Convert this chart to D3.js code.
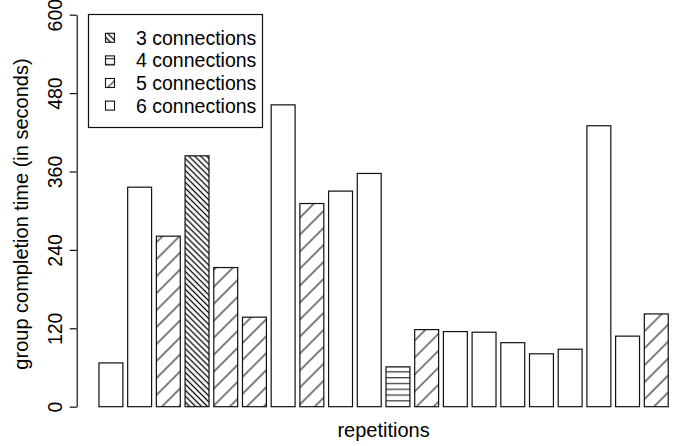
<!DOCTYPE html>
<html>
<head>
<meta charset="utf-8">
<script src="https://cdn.jsdelivr.net/npm/d3@7"></script>
<style>
  html, body { margin: 0; padding: 0; background: #fff; }
  svg { display: block; font-family: "Liberation Sans", Arial, Helvetica, sans-serif; }
</style>
</head>
<body>
<svg id="chart" width="679" height="446"></svg>
<script>
// Group completion time for each repetition, in seconds
const completionTimes = [67, 336, 261, 384, 213, 137, 462, 311, 330, 357, 61, 118, 115, 114, 98, 81, 88, 430, 108, 142];
// Number of connections used in each repetition
const connections = [6, 6, 5, 3, 5, 5, 6, 5, 6, 6, 4, 5, 6, 6, 6, 6, 6, 6, 6, 5];
// Legend entries and y tick values
const legendLabels = ["3 connections", "4 connections", "5 connections", "6 connections"];
const legendKeys = [3, 4, 5, 6];
const yTicks = [0, 120, 240, 360, 480, 600];

const svg = d3.select("#chart");

// Fill pattern for each connection count
const fillFor = { 3: "url(#hatch3)", 4: "url(#hatch4)", 5: "url(#hatch5)", 6: "#fff" };

const defs = svg.append("defs");
function hatch(id, spacing, angle, offset) {
  const p = defs.append("pattern")
    .attr("id", id)
    .attr("patternUnits", "userSpaceOnUse")
    .attr("width", 40)
    .attr("height", spacing)
    .attr("patternTransform", `rotate(${angle})`);
  p.append("rect").attr("width", 40).attr("height", spacing).attr("fill", "#fff");
  p.append("line")
    .attr("x1", 0).attr("x2", 40)
    .attr("y1", offset).attr("y2", offset)
    .attr("stroke", "#000").attr("stroke-width", 1.1);
}
hatch("hatch3", 4.2, 45, 2.1);
hatch("hatch4", 5.8, 0, 0.7);
hatch("hatch5", 12, -45, 6);

// Bar positions follow barplot conventions: width 1, gap 0.2
const x = d3.scaleLinear().domain([-0.752, 24.952]).range([76.2, 691]);
const y = d3.scaleLinear().domain([0, 600]).range([406.7, 14.7]);
const barW = x(1) - x(0);

svg.append("g")
  .selectAll("rect")
  .data(completionTimes)
  .join("rect")
  .attr("x", (d, i) => x(0.2 + 1.2 * i))
  .attr("y", d => y(d))
  .attr("width", barW)
  .attr("height", d => y(0) - y(d))
  .attr("fill", (d, i) => fillFor[connections[i]])
  .attr("stroke", "#111")
  .attr("stroke-width", 1.2);

// Y axis
const yAxis = svg.append("g")
  .attr("transform", "translate(76.7,0)")
  .call(d3.axisLeft(y).tickValues(yTicks).tickSize(7).tickSizeOuter(0).tickFormat(d3.format("d")));
yAxis.select(".domain").attr("stroke", "#111").attr("stroke-width", 1.2);
yAxis.selectAll(".tick line").attr("stroke", "#111").attr("stroke-width", 1.2);
yAxis.selectAll(".tick text")
  .attr("x", null).attr("dy", null)
  .attr("transform", "translate(-14.7,0) rotate(-90)")
  .attr("text-anchor", "middle")
  .attr("fill", "#000")
  .style("font-size", "19.5px")
  .style("font-family", "'Liberation Sans', Arial, sans-serif");

// Axis titles
svg.append("text")
  .attr("transform", "translate(28,214) rotate(-90)")
  .attr("text-anchor", "middle")
  .style("font-size", "20px")
  .text("group completion time (in seconds)");

svg.append("text")
  .attr("x", 383.6).attr("y", 437)
  .attr("text-anchor", "middle")
  .style("font-size", "20px")
  .text("repetitions");

// Legend
const legend = svg.append("g");
legend.append("rect")
  .attr("x", 88.5).attr("y", 14.5)
  .attr("width", 174).attr("height", 113)
  .attr("fill", "#fff")
  .attr("stroke", "#111").attr("stroke-width", 1.2);

const rowY = i => 37.8 + i * 22.6;
const rows = legend.selectAll("g.row")
  .data(legendLabels)
  .join("g")
  .attr("class", "row");
rows.append("rect")
  .attr("x", 105.5)
  .attr("y", (d, i) => rowY(i) - 4.5)
  .attr("width", 9).attr("height", 9)
  .attr("fill", (d, i) => fillFor[legendKeys[i]])
  .attr("stroke", "#111").attr("stroke-width", 1.1);
rows.append("text")
  .attr("x", 136)
  .attr("y", (d, i) => rowY(i) + 7)
  .style("font-size", "19.5px")
  .text(d => d);
</script>
</body>
</html>
